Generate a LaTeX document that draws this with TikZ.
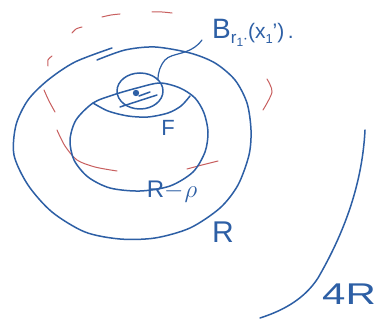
\documentclass[tikz,border=0pt]{standalone}
\usepackage{fontspec}
\setmainfont{Liberation Sans}
\begin{document}
\begin{tikzpicture}[x=1pt,y=-1pt,
  ink/.style={draw=inkblue,line width=1.5pt,line cap=round,line join=round},
  redink/.style={draw=inkred,line width=1.0pt,line cap=round},
  lbl/.style={text=inkblue,inner sep=0pt}]
\definecolor{inkblue}{RGB}{45,95,165}
\definecolor{inkred}{RGB}{200,95,95}
\useasboundingbox[fill=white] (0,0) rectangle (382,320);
% red dashed circle (hand drawn dashes)
\draw[redink] plot[smooth] coordinates {(48,66) (48,60) (52,56)};
\draw[redink] plot[smooth] coordinates {(72,33) (76,29) (82,27)};
\draw[redink] plot[smooth] coordinates {(102,17) (111,15) (120,14)};
\draw[redink] plot[smooth] coordinates {(152,12) (162,12) (172,13)};
\draw[redink] plot[smooth] coordinates {(267,79) (272,92) (263,110)};
\draw[redink] plot[smooth] coordinates {(44,90) (49,101) (55,112)};
\draw[redink] plot[smooth] coordinates {(57,130) (65,146) (77,160) (95,167) (117,171)};
\draw[redink] plot[smooth] coordinates {(187,169) (202,165) (218,161)};
% outer ellipse R
\draw[ink] plot[smooth] coordinates {(97,60) (125,50) (155,47) (190,53) (215,63) (235,80) (247,103) (251,130) (249,155) (238,185) (220,208) (190,228) (155,238) (120,239) (85,232) (52,212) (28,185) (14,155) (16,125) (28,100) (48,80) (75,62) (112,48)};
% middle ellipse R-rho
\draw[ink] plot[smooth cycle] coordinates {(93,103) (113,95) (137,88) (160,83) (180,88) (195,98) (204,113) (208,132) (205,152) (193,172) (170,186) (140,191) (110,188) (88,177) (74,160) (70,140) (76,120)};
% F arc
\draw[ink] plot[smooth] coordinates {(93,103) (108,111) (128,116) (148,117) (168,113) (181,106) (190,96)};
% small ball
\draw[ink] (140,91) ellipse[x radius=23,y radius=18];
\fill[inkblue] (136,93) circle[radius=3.2];
\draw[ink] (139,96) -- (150,92);
\draw[ink] (120,107) -- (157,95);
% label and leader
\node[lbl,anchor=west] (blabel) at (212,33) {\fontsize{28}{28}\selectfont B\raisebox{-0.35ex}{\fontsize{17}{17}\selectfont r\raisebox{-0.3ex}{\fontsize{12}{12}\selectfont 1}$\cdot$}\fontsize{21}{21}\selectfont(x\raisebox{-0.4ex}{\fontsize{13}{13}\selectfont 1}')\,.};
\coordinate (lead) at (202,40);
\coordinate (ballpt) at (158,80);
\draw[ink,line width=1.2pt] (lead) .. controls (190,56) and (172,52) .. (165,60) .. controls (160,66) and (158,72) .. (ballpt);
% labels
\node[lbl] (F) at (168,128) {\fontsize{22}{22}\selectfont F};
\node[lbl] (Rrho) at (172,192) {\fontsize{24}{24}\selectfont R$-$\kern1pt$\rho$};
\node[lbl] (R) at (223,232) {\fontsize{30}{30}\selectfont R};
% 4R arc
\coordinate (arctop) at (365,130);
\coordinate (arcbot) at (260,318);
\draw[ink] (arctop) .. controls (362,190) and (340,240) .. (318,278) .. controls (305,298) and (285,310) .. (arcbot);
\node[lbl] (fourR) at (349,294) {\fontsize{30}{30}\selectfont\scalebox{1.4}[1]{4R}};
\end{tikzpicture}
\end{document}
